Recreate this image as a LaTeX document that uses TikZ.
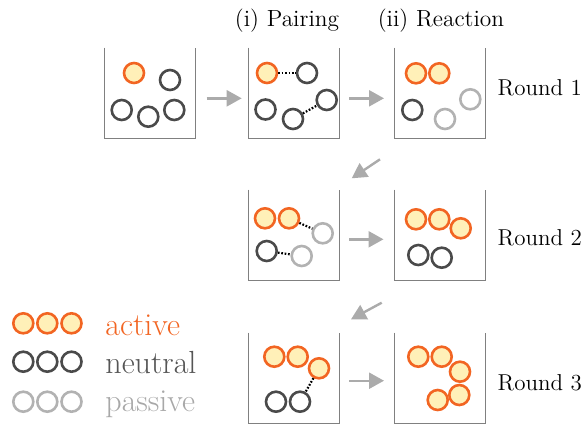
\documentclass[tikz,border=0pt]{standalone}
\usetikzlibrary{arrows.meta}
\definecolor{orangeC}{HTML}{F26522}
\definecolor{yellowC}{HTML}{FFF0B8}
\definecolor{darkC}{HTML}{4A4A4A}
\definecolor{lightC}{HTML}{B2B2B2}
\definecolor{wallC}{HTML}{808080}
\definecolor{arrowC}{HTML}{ABABAB}
\definecolor{neutralText}{HTML}{555555}
\definecolor{passiveText}{HTML}{A8A8A8}
\tikzset{
  ball/.style={circle, minimum size=10pt, inner sep=0pt, line width=1.3pt},
  act/.style={ball, draw=orangeC, fill=yellowC},
  neu/.style={ball, draw=darkC},
  pas/.style={ball, draw=lightC},
  vessel/.style={rectangle, minimum width=45pt, minimum height=45pt, inner sep=0pt},
  wall/.style={draw=wallC, line width=0.65pt},
  flow/.style={draw=arrowC, line width=1.2pt, -{Triangle[length=7.5pt,width=8pt]}},
  pairlink/.style={draw=black, line width=1.1pt, dash pattern=on 0.85pt off 0.85pt},
  lbl/.style={font=\fontsize{11.7}{13}\selectfont, inner sep=0pt, anchor=base},
  roundlbl/.style={font=\fontsize{11.5}{13}\selectfont, inner sep=0pt, anchor=base west},
  legendlbl/.style={font=\fontsize{16}{19}\selectfont, inner sep=0pt, anchor=base west}
}
\begin{document}
\begin{tikzpicture}[x=0.5pt, y=-0.5pt]
\useasboundingbox (0,0) rectangle (587,424);

% vessels
\node[vessel] (b11) at (150,93) {};
\node[vessel] (b12) at (294,93) {};
\node[vessel] (b13) at (440,93) {};
\node[vessel] (b21) at (294,235) {};
\node[vessel] (b22) at (440,235) {};
\node[vessel] (b31) at (294,378) {};
\node[vessel] (b32) at (440,378) {};
\foreach \b in {b11,b12,b13,b21,b22,b31,b32}
  \draw[wall] (\b.north west) -- (\b.south west) -- (\b.south east) -- (\b.north east);

% labels
\node[lbl] (lpair) at (287,26.7) {(i) Pairing};
\node[lbl] (lreac) at (441,26.7) {(ii) Reaction};
\node[roundlbl] (r1) at (497.3,95.7) {Round 1};
\node[roundlbl] (r2) at (497.3,245.7) {Round 2};
\node[roundlbl] (r3) at (497.3,390.7) {Round 3};

% box 11
\node[act] (c11a) at (134,73) {};
\node[neu] (c11b) at (170,80) {};
\node[neu] (c11c) at (121.7,110) {};
\node[neu] (c11d) at (148.3,116.7) {};
\node[neu] (c11e) at (174.3,110) {};

% box 12
\node[act] (c12a) at (267,73) {};
\node[neu] (c12b) at (307,73) {};
\node[neu] (c12c) at (265.5,109.5) {};
\node[neu] (c12d) at (293,119) {};
\node[neu] (c12e) at (326.7,100) {};
\draw[pairlink] (c12a) -- (c12b);
\draw[pairlink] (c12d) -- (c12e);

% box 13
\node[act] (c13a) at (416,73.3) {};
\node[act] (c13b) at (439.3,73.3) {};
\node[neu] (c13c) at (412.3,110) {};
\node[pas] (c13d) at (445,119) {};
\node[pas] (c13e) at (470.3,99.3) {};

% box 21
\node[act] (c21a) at (265,218.3) {};
\node[act] (c21b) at (289,218.3) {};
\node[pas] (c21c) at (322.7,233.3) {};
\node[neu] (c21d) at (266.7,251) {};
\node[pas] (c21e) at (301.7,256) {};
\draw[pairlink] (c21b) -- (c21c);
\draw[pairlink] (c21d) -- (c21e);

% box 22
\node[act] (c22a) at (416,219.3) {};
\node[act] (c22b) at (439.3,219.3) {};
\node[act] (c22c) at (460.7,228.3) {};
\node[neu] (c22d) at (418.3,255) {};
\node[neu] (c22e) at (441.7,257.7) {};

% box 31
\node[act] (c31a) at (274.3,356.7) {};
\node[act] (c31b) at (297.7,356.7) {};
\node[act] (c31c) at (319,368.3) {};
\node[neu] (c31d) at (276,401.7) {};
\node[neu] (c31e) at (300,401.7) {};
\draw[pairlink] (c31c) -- (c31e);

% box 32
\node[act] (c32a) at (418.3,356.7) {};
\node[act] (c32b) at (441.7,356.7) {};
\node[act] (c32c) at (460,371.7) {};
\node[act] (c32d) at (459.3,395) {};
\node[act] (c32e) at (437.7,400) {};

% flow arrows
\coordinate (h1s) at (206.7,98.3); \coordinate (h1e) at (241.7,98.3);
\coordinate (h2s) at (349.3,98.3); \coordinate (h2e) at (384,98.3);
\coordinate (h3s) at (349.3,239.3); \coordinate (h3e) at (383.5,239.3);
\coordinate (h4s) at (349.3,380.7); \coordinate (h4e) at (384,380.7);
\coordinate (d1s) at (380,159.3); \coordinate (d1e) at (351.7,178.3);
\coordinate (d2s) at (381.7,302.7); \coordinate (d2e) at (351,319.3);
\draw[flow] (h1s) -- (h1e);
\draw[flow] (h2s) -- (h2e);
\draw[flow] (h3s) -- (h3e);
\draw[flow] (h4s) -- (h4e);
\draw[flow] (d1s) -- (d1e);
\draw[flow] (d2s) -- (d2e);

% legend
\node[act] (la1) at (23.3,323.3) {};
\node[act] (la2) at (47.3,323.3) {};
\node[act] (la3) at (71.5,323.3) {};
\node[neu] (ln1) at (23.3,361.7) {};
\node[neu] (ln2) at (47.3,361.7) {};
\node[neu] (ln3) at (71.5,361.7) {};
\node[pas] (lp1) at (23.3,401.7) {};
\node[pas] (lp2) at (47.3,401.7) {};
\node[pas] (lp3) at (71.5,401.7) {};
\node[legendlbl, text=orangeC] (tact) at (105,335) {active};
\node[legendlbl, text=neutralText] (tneu) at (105,373.3) {neutral};
\node[legendlbl, text=passiveText] (tpas) at (105,411.7) {passive};
\end{tikzpicture}
\end{document}
